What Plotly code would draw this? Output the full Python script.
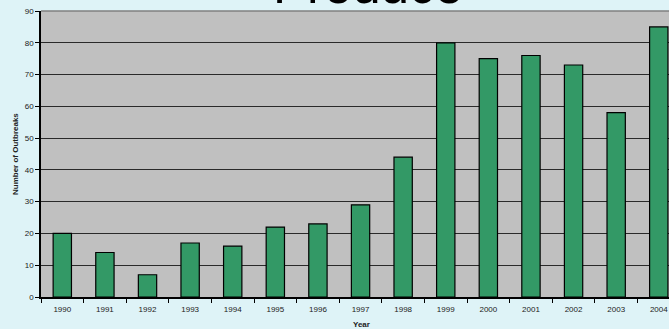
import plotly.graph_objects as go

# Produce-associated outbreaks per year
years = ["1990", "1991", "1992", "1993", "1994", "1995", "1996", "1997",
         "1998", "1999", "2000", "2001", "2002", "2003", "2004"]
outbreaks = [20, 14, 7, 17, 16, 22, 23, 29, 44, 80, 75, 76, 73, 58, 85]
y_ticks = [0, 10, 20, 30, 40, 50, 60, 70, 80, 90]

W, H = 669, 329
ML, MR, MT, MB = 41, 0, 11, 32

fig = go.Figure(go.Bar(
    x=years, y=outbreaks,
    width=0.43,
    marker=dict(color="#339966", line=dict(color="#000000", width=1.2)),
))

tick_font = dict(family="Liberation Sans, Arial", size=8, color="#222222")

fig.update_layout(
    width=W, height=H,
    margin=dict(l=ML, r=MR, t=MT, b=MB, pad=0),
    paper_bgcolor="#def3f7",
    plot_bgcolor="#c0c0c0",
    showlegend=False,
    xaxis=dict(
        type="category",
        range=[-0.5, 14.24],
        showgrid=False,
        showline=True, linecolor="#000000", linewidth=1.5,
        ticks="outside", ticklen=4, tickcolor="#000000", tickwidth=1,
        tickson="boundaries",
        ticklabelstandoff=4,
        tickfont=tick_font,
        fixedrange=True,
    ),
    yaxis=dict(
        range=[0, 90],
        tickvals=y_ticks,
        showgrid=True, gridcolor="#2a2a2a", gridwidth=1.2,
        zeroline=False,
        showline=True, linecolor="#000000", linewidth=1.5,
        ticks="outside", ticklen=4, tickcolor="#000000", tickwidth=1,
        tickfont=tick_font,
        fixedrange=True,
    ),
    annotations=[
        dict(text="Produce", xref="paper", yref="paper",
             x=0.52, y=1.0, xanchor="center", yanchor="bottom", yshift=-5,
             showarrow=False,
             font=dict(family="Liberation Sans, Arial", size=51, color="#000000")),
        dict(text="<b>Number of Outbreaks</b>", xref="paper", yref="paper",
             x=0, y=0.5, xshift=-26, xanchor="center", yanchor="middle",
             textangle=-90, showarrow=False,
             font=dict(family="Liberation Sans, Arial", size=8, color="#222222")),
        dict(text="<b>Year</b>", xref="paper", yref="paper",
             x=0.51, y=0, yshift=-27, xanchor="center", yanchor="middle",
             showarrow=False,
             font=dict(family="Liberation Sans, Arial", size=8, color="#222222")),
    ],
    shapes=[
        # lighter border along the top of the plotting area
        dict(type="line", xref="paper", yref="paper", x0=0, x1=1, y0=1, y1=1,
             line=dict(color="#808080", width=1.5)),
    ],
)

fig.write_html("out.html", config={"displayModeBar": False})
